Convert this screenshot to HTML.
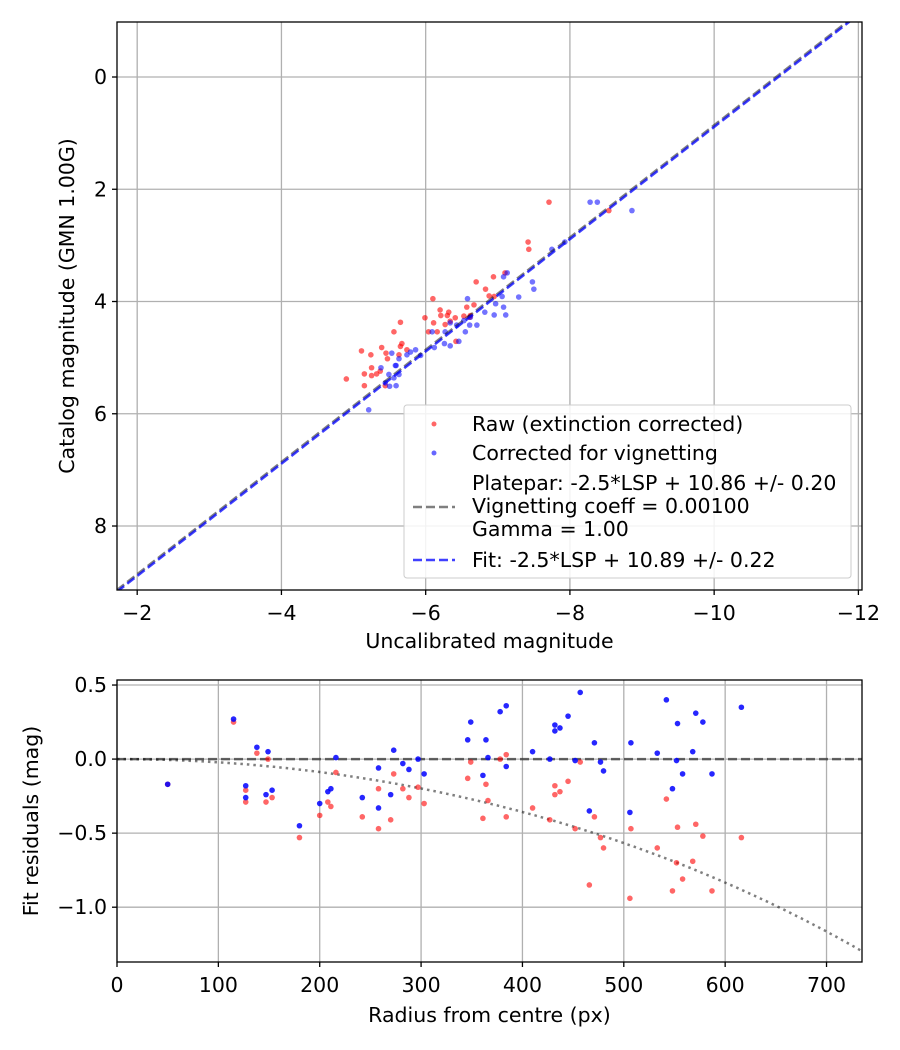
<!DOCTYPE html>
<html><head><meta charset="utf-8"><style>
body{margin:0;background:#fff;}
svg{display:block;font-family:"DejaVu Sans","Liberation Sans",sans-serif;}
</style></head><body>
<svg id="fig" width="900" height="1050" viewBox="0 0 900 1050" xmlns="http://www.w3.org/2000/svg"></svg>
<script>
// ---- Top chart data ----
const rawX = [-7.71,-7.42,-7.43,-8.54,-6.70,-6.94,-6.83,-7.10,-6.88,-6.10,-6.95,-6.20,-6.32,-6.21,-6.30,-6.41,-5.99,-6.57,-6.67,-6.62,-6.11,-6.27,-6.34,-5.65,-5.56,-6.04,-6.16,-6.42,-5.67,-5.65,-5.39,-5.11,-5.24,-5.45,-5.74,-5.63,-5.47,-5.25,-5.15,-5.37,-5.25,-5.32,-4.90,-5.15,-5.44,-6.53,-6.61];
const rawY = [2.23,2.94,3.07,2.38,3.65,3.56,3.78,3.49,3.90,3.95,3.91,4.15,4.19,4.25,4.25,4.29,4.29,4.10,4.06,4.25,4.38,4.41,4.35,4.37,4.54,4.54,4.54,4.71,4.75,4.80,4.82,4.88,4.95,4.92,4.86,4.95,5.02,5.18,5.29,5.24,5.32,5.29,5.38,5.50,5.50,4.26,4.28];
const corX = [-8.28,-8.38,-8.86,-7.93,-7.75,-7.48,-7.50,-7.29,-7.06,-6.58,-7.13,-7.08,-6.97,-6.82,-7.08,-7.11,-6.95,-6.71,-6.61,-6.55,-6.43,-6.53,-6.62,-6.46,-6.34,-6.26,-6.12,-6.09,-6.27,-5.93,-5.86,-5.79,-5.74,-5.53,-5.63,-5.58,-5.38,-5.49,-5.63,-5.56,-5.44,-5.59,-5.50,-5.21,-5.59,-6.34];
const corY = [2.23,2.23,2.38,2.94,3.07,3.65,3.78,3.92,3.91,3.95,3.49,3.56,4.04,4.19,4.10,4.24,4.24,4.42,4.42,4.54,4.42,4.34,4.28,4.71,4.79,4.75,4.82,4.54,4.54,4.96,4.86,4.90,4.95,4.92,5.02,5.14,5.18,5.30,5.30,5.36,5.45,5.50,5.51,5.93,5.14,4.38];
const plateparZP = 10.86;
const fitZP = 10.89;
const topXTicks = [-2,-4,-6,-8,-10,-12];
const topYTicks = [0,2,4,6,8];
// ---- Bottom chart data ----
const radius = [50,115,127,127,138,149,147,153,180,200,208,211,216,242,258,258,270,273,282,288,297,303,346,349,364,361,366,378,384,384,410,427,432,432,437,445,457,452,466,471,477,480,507,506,533,542,548,552,553,558,568,571,578,587,616];
const resCor = [-0.17,0.27,-0.18,-0.26,0.08,0.05,-0.24,-0.21,-0.45,-0.30,-0.22,-0.20,0.01,-0.26,-0.06,-0.33,-0.24,0.06,-0.03,-0.07,0.0,-0.10,0.13,0.25,0.13,-0.11,0.01,0.32,0.36,-0.05,0.05,0.0,0.23,0.19,0.21,0.29,0.45,-0.01,-0.35,0.11,-0.02,-0.08,0.11,-0.36,0.04,0.40,-0.20,-0.01,0.24,-0.10,0.05,0.31,0.25,-0.10,0.35];
const resRaw = [-0.17,0.25,-0.21,-0.29,0.04,0.0,-0.29,-0.26,-0.53,-0.38,-0.29,-0.32,-0.09,-0.39,-0.20,-0.47,-0.41,-0.10,-0.20,-0.26,-0.19,-0.30,-0.13,-0.02,-0.17,-0.40,-0.28,0.0,0.03,-0.39,-0.33,-0.41,-0.18,-0.24,-0.22,-0.15,-0.02,-0.47,-0.85,-0.39,-0.53,-0.60,-0.47,-0.94,-0.60,-0.27,-0.89,-0.70,-0.46,-0.81,-0.69,-0.44,-0.52,-0.89,-0.53];
const vignCoeff = 0.001;
const botXTicks = [0,100,200,300,400,500,600,700];
const botYTicks = [0.5,0.0,-0.5,-1.0];
const botYLabels = ["0.5","0.0","\u22120.5","\u22121.0"];

const NS="http://www.w3.org/2000/svg";
const svg=document.getElementById('fig');
const FS=20.5;
function mk(tag,attrs,parent){const e=document.createElementNS(NS,tag);for(const k in attrs)e.setAttribute(k,attrs[k]);(parent||svg).appendChild(e);return e;}
function txt(s,attrs,parent){const e=mk('text',attrs,parent);e.textContent=s;return e;}
function fmt(v){return v<0?'\u2212'+Math.abs(v):String(v);}

// ===== TOP =====
const T={l:117,r:862,t:22,b:590,x0:-1.72,x1:-12.05,y0:-0.98,y1:9.14};
const tx=v=>T.l+(v-T.x0)/(T.x1-T.x0)*(T.r-T.l);
const ty=v=>T.t+(v-T.y0)/(T.y1-T.y0)*(T.b-T.t);
const gTop=mk('g',{});


const clipT=mk('clipPath',{id:'ct'},gTop);mk('rect',{x:T.l,y:T.t,width:T.r-T.l,height:T.b-T.t},clipT);
topXTicks.forEach(v=>{const x=tx(v);
 const g=mk('line',{x1:x,x2:x,y1:T.t,y2:T.b,stroke:'#b0b0b0','stroke-width':1.3},gTop);
 
 mk('line',{x1:x,x2:x,y1:T.b,y2:T.b+5,stroke:'#000','stroke-width':1.3},gTop);
 const t=txt(fmt(v),{x:x,y:T.b+30,'text-anchor':'middle','font-size':FS},gTop);
 });
topYTicks.forEach(v=>{const y=ty(v);
 const g=mk('line',{x1:T.l,x2:T.r,y1:y,y2:y,stroke:'#b0b0b0','stroke-width':1.3},gTop);
 
 mk('line',{x1:T.l-5,x2:T.l,y1:y,y2:y,stroke:'#000','stroke-width':1.3},gTop);
 const t=txt(fmt(v),{x:T.l-10,y:y+7,'text-anchor':'end','font-size':FS},gTop);
 });
const pts=mk('g',{'clip-path':'url(#ct)'},gTop);
rawX.forEach((v,i)=>{const c=mk('circle',{cx:tx(v),cy:ty(rawY[i]),r:2.8,fill:'red','fill-opacity':0.6},pts);
 });
corX.forEach((v,i)=>{const c=mk('circle',{cx:tx(v),cy:ty(corY[i]),r:2.8,fill:'blue','fill-opacity':0.55},pts);
 });
const lp=mk('line',{x1:tx(T.x0),y1:ty(-T.x0*0+T.x0+plateparZP),x2:tx(T.x1),y2:ty(T.x1+plateparZP),stroke:'#000','stroke-opacity':0.5,'stroke-width':2.5,'stroke-dasharray':'9,4'},pts);

const lf=mk('line',{x1:tx(T.x0),y1:ty(T.x0+fitZP),x2:tx(T.x1),y2:ty(T.x1+fitZP),stroke:'blue','stroke-opacity':0.75,'stroke-width':2.5,'stroke-dasharray':'9,4'},pts);

mk('rect',{x:T.l,y:T.t,width:T.r-T.l,height:T.b-T.t,fill:'none',stroke:'#000','stroke-width':1.3},gTop);
const xl=txt('Uncalibrated magnitude',{x:(T.l+T.r)/2,y:648,'text-anchor':'middle','font-size':FS},gTop);

const yl=txt('Catalog magnitude (GMN 1.00G)',{x:0,y:0,'text-anchor':'middle','font-size':FS,transform:'translate(74,306) rotate(-90)'},gTop);

// legend
const lg=mk('g',{},gTop);

mk('rect',{x:404,y:405,width:447,height:173,rx:3,fill:'#fff','fill-opacity':0.85,stroke:'#cccccc'},lg);
mk('circle',{cx:434,cy:424,r:2.5,fill:'red','fill-opacity':0.6},lg);
mk('circle',{cx:434,cy:453,r:2.5,fill:'blue','fill-opacity':0.6},lg);
mk('line',{x1:413,x2:455,y1:507,y2:507,stroke:'#000','stroke-opacity':0.5,'stroke-width':2.5,'stroke-dasharray':'9,4'},lg);
mk('line',{x1:413,x2:455,y1:560,y2:560,stroke:'blue','stroke-opacity':0.75,'stroke-width':2.5,'stroke-dasharray':'9,4'},lg);
[['Raw (extinction corrected)',431],['Corrected for vignetting',460],['Platepar: -2.5*LSP + 10.86 +/- 0.20',490],['Vignetting coeff = 0.00100',513],['Gamma = 1.00',536],['Fit: -2.5*LSP + 10.89 +/- 0.22',567]].forEach(a=>{
 const t=txt(a[0],{x:472,y:a[1],'font-size':FS},lg);});

// ===== BOTTOM =====
const B={l:117,r:862,t:680,b:962,x0:0,x1:735,y0:0.534,y1:-1.37};
const bx=v=>B.l+(v-B.x0)/(B.x1-B.x0)*(B.r-B.l);
const by=v=>B.t+(v-B.y0)/(B.y1-B.y0)*(B.b-B.t);
const gB=mk('g',{});


const clipB=mk('clipPath',{id:'cb'},gB);mk('rect',{x:B.l,y:B.t,width:B.r-B.l,height:B.b-B.t},clipB);
botXTicks.forEach(v=>{const x=bx(v);
 const g=mk('line',{x1:x,x2:x,y1:B.t,y2:B.b,stroke:'#b0b0b0','stroke-width':1.3},gB);
 
 mk('line',{x1:x,x2:x,y1:B.b,y2:B.b+5,stroke:'#000','stroke-width':1.3},gB);
 const t=txt(String(v),{x:x,y:B.b+30,'text-anchor':'middle','font-size':FS},gB);
 });
botYTicks.forEach((v,i)=>{const y=by(v);
 const g=mk('line',{x1:B.l,x2:B.r,y1:y,y2:y,stroke:'#b0b0b0','stroke-width':1.3},gB);
 
 mk('line',{x1:B.l-5,x2:B.l,y1:y,y2:y,stroke:'#000','stroke-width':1.3},gB);
 const t=txt(botYLabels[i],{x:B.l-10,y:y+7,'text-anchor':'end','font-size':FS},gB);
 });
const pb=mk('g',{'clip-path':'url(#cb)'},gB);
const zl=mk('line',{x1:B.l,x2:B.r,y1:by(0),y2:by(0),stroke:'#000','stroke-opacity':0.55,'stroke-width':2.5,'stroke-dasharray':'9,4'},pb);

let d='';for(let r=0;r<=B.x1;r+=5){const v=10*Math.log10(Math.cos(vignCoeff*r));d+=(r?'L':'M')+bx(r).toFixed(1)+','+by(v).toFixed(1);}
const vc=mk('path',{d:d,fill:'none',stroke:'#000','stroke-opacity':0.5,'stroke-width':2.5,'stroke-dasharray':'2.5,4'},pb);

radius.forEach((r,i)=>{const c=mk('circle',{cx:bx(r),cy:by(resRaw[i]),r:2.8,fill:'red','fill-opacity':0.6},pb);
 });
radius.forEach((r,i)=>{const c=mk('circle',{cx:bx(r),cy:by(resCor[i]),r:2.8,fill:'blue','fill-opacity':0.85},pb);
 });
mk('rect',{x:B.l,y:B.t,width:B.r-B.l,height:B.b-B.t,fill:'none',stroke:'#000','stroke-width':1.3},gB);
const bxl=txt('Radius from centre (px)',{x:(B.l+B.r)/2,y:1022,'text-anchor':'middle','font-size':FS},gB);

const byl=txt('Fit residuals (mag)',{x:0,y:0,'text-anchor':'middle','font-size':FS,transform:'translate(38,821) rotate(-90)'},gB);

</script>
</body></html>
